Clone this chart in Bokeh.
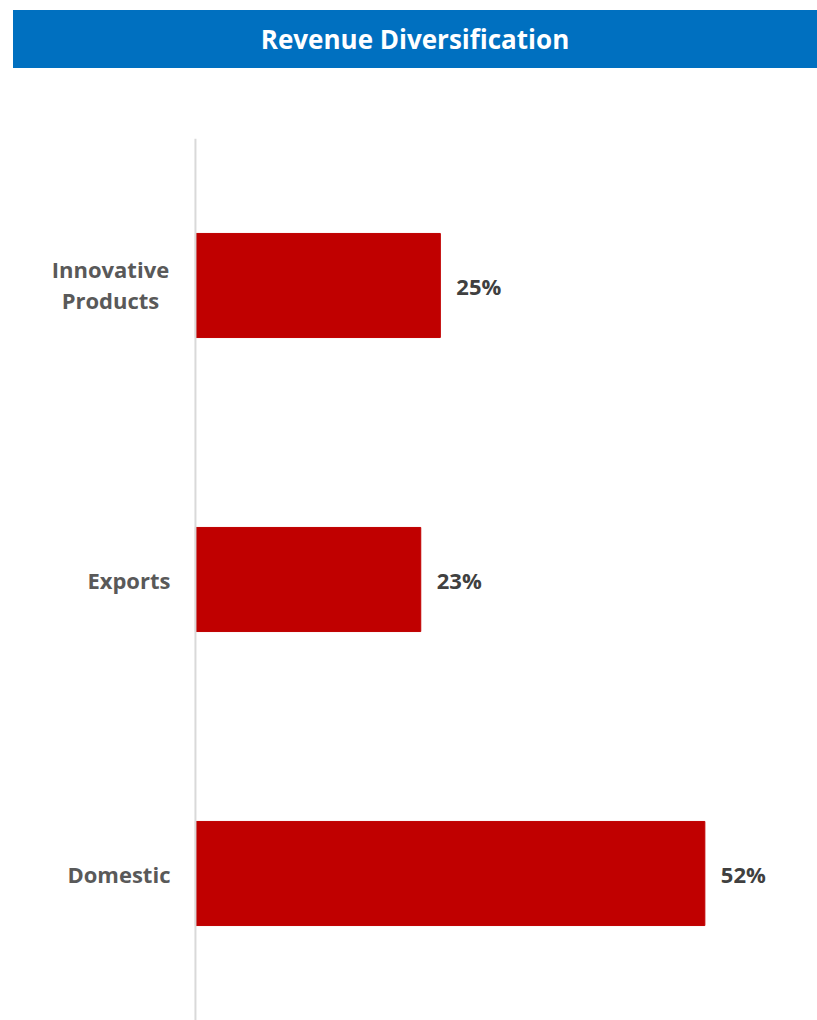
from bokeh.plotting import figure
from bokeh.models import ColumnDataSource, FactorRange, Range1d, Div, Span
from bokeh.layouts import column
from bokeh.embed import file_html
from bokeh.resources import INLINE
from bokeh.core.properties import value

title_text = "Revenue Diversification"
categories = ["Domestic", "Exports", "Innovative Products"]
category_labels = ["Domestic", "Exports", "Innovative\nProducts"]
shares = [52, 23, 25]
value_labels = ["52%", "23%", "25%"]

FONT = "Open Sans"

src = ColumnDataSource(dict(cat=categories, share=shares, lbl=value_labels))

single = [(c, l) for c, l in zip(categories, category_labels) if "\n" not in l]
multi = [(c, l) for c, l in zip(categories, category_labels) if "\n" in l]
src_single = ColumnDataSource(dict(cat=[c for c, _ in single], txt=[l for _, l in single]))
src_multi = ColumnDataSource(dict(cat=[c for c, _ in multi], txt=[l for _, l in multi]))

header = Div(
    text=title_text,
    width=804, height=58, margin=(10, 0, 0, 13),
    styles={"background-color": "#0070C0", "color": "white",
            "font-family": FONT, "font-weight": "bold", "font-size": "26px",
            "text-align": "center", "line-height": "58px", "width": "804px",
            "height": "58px"},
)

# frame spans the full width; x=0 sits 195 px from the left edge
p = figure(y_range=FactorRange(*categories), x_range=Range1d(-19.9, 63.5),
           width=817, height=952, output_backend="svg", toolbar_location=None,
           min_border_left=0, min_border_right=0, min_border_top=70,
           min_border_bottom=0, margin=(0, 0, 0, 0))

p.hbar(y="cat", left=0, right="share", height=0.354, source=src,
       fill_color="#C00000", line_color="#C00000")
p.text(x="share", y="cat", text="lbl", source=src, x_offset=16,
       text_baseline="middle", text_align="left", text_font=value(FONT),
       text_font_style="bold", text_font_size="22px", text_color="#404040")

lab_style = dict(text_baseline="middle", text_font=value(FONT),
                 text_font_style="bold", text_font_size="22px",
                 text_color="#595959", text_line_height=1.05)
p.text(x=0, y="cat", text="txt", source=src_single, x_offset=-25,
       text_align="right", **lab_style)
p.text(x=0, y="cat", text="txt", source=src_multi, x_offset=-85, y_offset=-1,
       text_align="center", **lab_style)

p.add_layout(Span(location=0, dimension="height", line_color="#D9D9D9",
                  line_width=2))

p.xaxis.visible = False
p.yaxis.visible = False
p.xgrid.visible = False
p.ygrid.visible = False
p.outline_line_color = None

layout = column(header, p, spacing=0)
open("out.html", "w").write(file_html(layout, INLINE))
